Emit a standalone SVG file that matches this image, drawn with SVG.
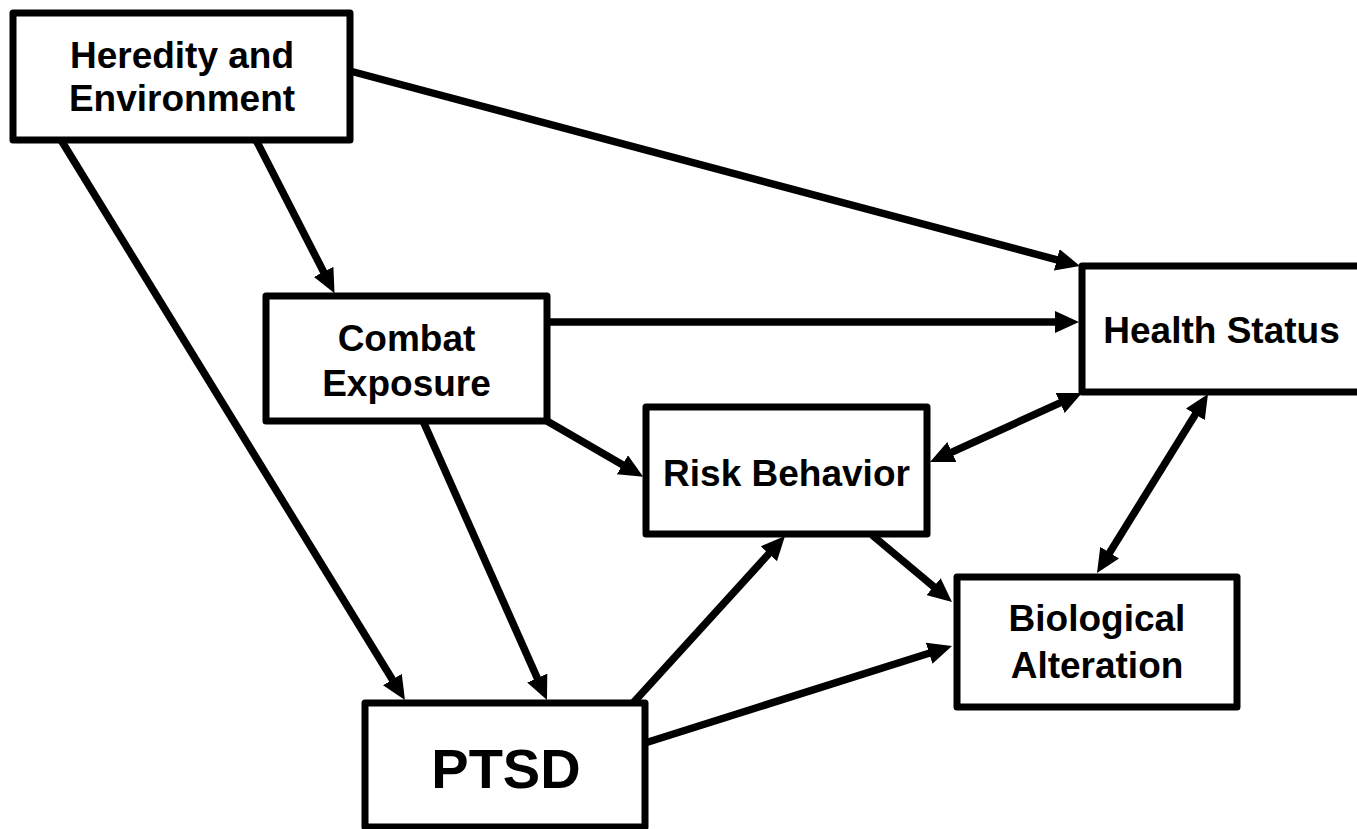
<svg xmlns="http://www.w3.org/2000/svg" width="1357" height="829" viewBox="0 0 1357 829">
<style>
.box{fill:#fff;stroke:#000;stroke-width:7;stroke-linejoin:round}
.lbl{font-family:"Liberation Sans",Arial,sans-serif;font-weight:bold;font-size:37px;fill:#000;text-anchor:middle}
.big{font-size:56px}
.con line{stroke:#000;stroke-width:7.5;fill:none;marker-end:url(#ah)}
.con line.bi{marker-start:url(#ah)}
</style>
<defs>
<marker id="ah" markerUnits="userSpaceOnUse" markerWidth="24" markerHeight="22" refX="9" refY="11" orient="auto-start-reverse" viewBox="0 0 24 22">
<path d="M0,0 L24,11 L0,22 Z" fill="#000"/>
</marker>
</defs>
<rect width="1357" height="829" fill="#fff"/>
<g id="connectors" class="con">
<line x1="350" y1="71" x2="1065.5" y2="262.1"/>
<line x1="256" y1="140" x2="327.7" y2="279.9"/>
<line x1="61" y1="140" x2="397.1" y2="687.2"/>
<line x1="547" y1="322" x2="1064" y2="322"/>
<line x1="547" y1="421" x2="630.2" y2="469.3"/>
<line x1="423" y1="421" x2="540.9" y2="686.3"/>
<line class="bi" x1="943.7" y1="455.8" x2="1068.3" y2="399.2"/>
<line class="bi" x1="1200.1" y1="406.75" x2="1104.9" y2="560.25"/>
<line x1="872" y1="535" x2="940.5" y2="592.4"/>
<line x1="633" y1="703" x2="774.9" y2="547.1"/>
<line x1="645" y1="743" x2="937.7" y2="650.5"/>
</g>
<g id="heredity">
<rect class="box" x="13" y="13" width="337" height="127"/>
<text class="lbl" x="182" y="68">Heredity and</text>
<text class="lbl" x="182" y="111">Environment</text>
</g>
<g id="combat">
<rect class="box" x="266" y="296" width="281" height="125"/>
<text class="lbl" x="406.5" y="351">Combat</text>
<text class="lbl" x="406.5" y="396">Exposure</text>
</g>
<g id="health">
<rect class="box" x="1082" y="266" width="282" height="126"/>
<text class="lbl" x="1221.5" y="343">Health Status</text>
</g>
<g id="risk">
<rect class="box" x="646" y="407" width="281" height="127"/>
<text class="lbl" x="786.5" y="486">Risk Behavior</text>
</g>
<g id="biological">
<rect class="box" x="957" y="577" width="280" height="130"/>
<text class="lbl" x="1097" y="631">Biological</text>
<text class="lbl" x="1097" y="678">Alteration</text>
</g>
<g id="ptsd">
<rect class="box" x="365" y="703" width="280" height="124"/>
<text class="lbl big" x="506" y="788">PTSD</text>
</g>
</svg>
